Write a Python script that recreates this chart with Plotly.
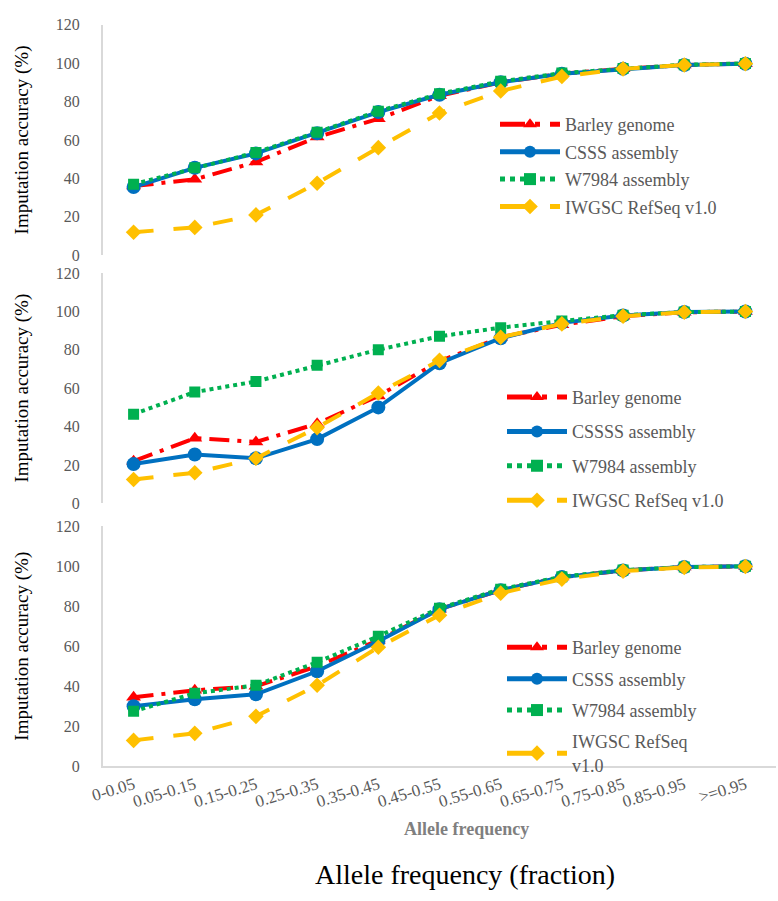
import plotly.graph_objects as go

categories = ["0-0.05", "0.05-0.15", "0.15-0.25", "0.25-0.35", "0.35-0.45", "0.45-0.55",
              "0.55-0.65", "0.65-0.75", "0.75-0.85", "0.85-0.95", ">=0.95"]
y_ticks = [0, 20, 40, 60, 80, 100, 120]

# Panel A (top)
barley_a = [36, 39.5, 48.5, 61.5, 71, 83, 90, 94.5, 97, 99, 99.7]
csss_a = [35.5, 45.5, 53, 63.5, 74.5, 83.5, 90, 94.5, 97, 99, 99.7]
w7984_a = [37, 45.5, 53.5, 64, 75, 84, 90.5, 94.8, 97.2, 99.2, 99.8]
iwgsc_a = [12, 14.5, 21, 37.5, 56, 74, 85.5, 93, 97, 99, 99.7]

# Panel B (middle)
barley_b = [22, 34, 32, 41.5, 56, 74, 86.5, 93, 97.5, 99.5, 99.9]
csssss_b = [20.5, 25.5, 23.5, 33.5, 50, 73, 86, 94, 97.8, 99.6, 99.9]
w7984_b = [46.5, 58, 63.5, 72, 80, 87, 91.5, 95, 98, 99.6, 99.9]
iwgsc_b = [12.5, 16, 23.5, 39.5, 57.5, 74.5, 86.5, 93.5, 97.5, 99.5, 99.9]

# Panel C (bottom)
barley_c = [34.5, 38, 40, 50, 63, 78.5, 88, 94.5, 97.8, 99.5, 99.9]
csss_c = [30, 33.5, 36, 47.5, 62.5, 78.5, 88, 94.5, 97.8, 99.5, 99.9]
w7984_c = [27.5, 36.5, 40.5, 52, 65, 79, 88.5, 94.7, 98, 99.5, 99.9]
iwgsc_c = [13, 16.5, 25, 40.5, 59.5, 75.5, 86.5, 93.5, 97.5, 99.3, 99.8]

names_a = ["Barley genome", "CSSS assembly", "W7984 assembly", "IWGSC RefSeq v1.0"]
names_b = ["Barley genome", "CSSSS assembly", "W7984 assembly", "IWGSC RefSeq v1.0"]
names_c = ["Barley genome", "CSSS assembly", "W7984 assembly", "IWGSC RefSeq<br>v1.0"]

RED, BLUE, GREEN, GOLD = "#ff0000", "#0070c0", "#00b050", "#ffc000"
styles = [
    dict(color=RED, dash="longdashdot", symbol="triangle-up", size=13),
    dict(color=BLUE, dash="solid", symbol="circle", size=14),
    dict(color=GREEN, dash="dot", symbol="square", size=11),
    dict(color=GOLD, dash="longdash", symbol="diamond", size=12),
]

FONT = "Liberation Serif, Times New Roman, serif"
GREY = "#595959"

fig = go.Figure()
panels = [
    ([barley_a, csss_a, w7984_a, iwgsc_a], names_a, "x", "y", "legend"),
    ([barley_b, csssss_b, w7984_b, iwgsc_b], names_b, "x2", "y2", "legend2"),
    ([barley_c, csss_c, w7984_c, iwgsc_c], names_c, "x3", "y3", "legend3"),
]
for pi, (series, names, xa, ya, lg) in enumerate(panels):
    for si, (vals, nm, st) in enumerate(zip(series, names, styles)):
        fig.add_trace(go.Scatter(
            x=categories, y=vals, name=nm, mode="lines+markers",
            xaxis=xa, yaxis=ya, legend=lg, legendgroup=f"{lg}_{si}",
            line=dict(color=st["color"], width=4, dash=st["dash"]),
            marker=dict(color=st["color"], symbol=st["symbol"], size=st["size"], line=dict(width=0)),
        ))

H = 901.0
def dom(top_px, bot_px):
    return [1 - bot_px / H, 1 - top_px / H]

yaxis_common = dict(
    range=[0, 120], tickvals=y_ticks, showgrid=False, zeroline=False,
    showline=True, linecolor="#d9d9d9", linewidth=2,
    tickfont=dict(family=FONT, size=16, color=GREY), ticklabelstandoff=18,
    title=dict(text="Imputation accuracy (%)", font=dict(family=FONT, size=19, color="#000000"), standoff=22),
)
xaxis_common = dict(
    type="category", range=[-0.5, 10.5], showgrid=False, zeroline=False,
    tickfont=dict(family=FONT, size=17, color=GREY), tickangle=-17,
)

legend_common = dict(
    font=dict(family=FONT, size=18, color=GREY), bgcolor="rgba(0,0,0,0)",
    xanchor="left", yanchor="top", itemwidth=60, itemsizing="constant",
)
PX_L, PW = 103.0, 673.0
def lx(px):
    return (px - PX_L) / PW

fig.update_layout(
    width=778, height=901,
    margin=dict(l=103, r=2, t=0, b=0),
    paper_bgcolor="white", plot_bgcolor="white",
    showlegend=True,
    xaxis=dict(xaxis_common, anchor="y", showticklabels=False, showline=False),
    yaxis=dict(yaxis_common, domain=dom(17, 252), anchor="x"),
    xaxis2=dict(xaxis_common, anchor="y2", showticklabels=False, showline=False),
    yaxis2=dict(yaxis_common, domain=dom(270, 505), anchor="x2"),
    xaxis3=dict(xaxis_common, anchor="y3", showticklabels=True, showline=True, linecolor="#d9d9d9", linewidth=2),
    yaxis3=dict(yaxis_common, domain=dom(528, 773), anchor="x3"),
    legend=dict(legend_common, x=lx(495), y=1 - 100 / H, tracegroupgap=1),
    legend2=dict(legend_common, x=lx(502), y=1 - 378 / H, tracegroupgap=8),
    legend3=dict(legend_common, x=lx(502), y=1 - 633 / H, tracegroupgap=5),
    annotations=[
        dict(text="<b>Allele frequency</b>", xref="paper", yref="paper", x=lx(466), y=1 - 837 / H,
             showarrow=False, font=dict(family=FONT, size=18, color="#7f7f7f"), xanchor="center", yanchor="middle"),
        dict(text="Allele frequency (fraction)", xref="paper", yref="paper", x=lx(465), y=1 - 883 / H,
             showarrow=False, font=dict(family=FONT, size=28, color="#000000"), xanchor="center", yanchor="middle"),
    ],
)

fig.write_html("out.html")
